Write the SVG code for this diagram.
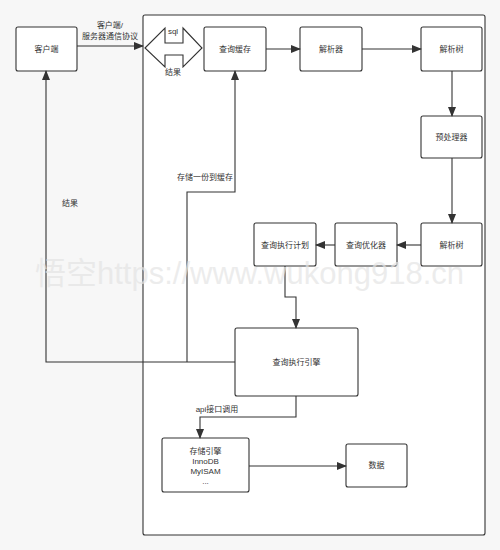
<svg xmlns="http://www.w3.org/2000/svg" width="500" height="550" viewBox="0 0 500 550">
<style>
.box{fill:#fff;stroke:#333;stroke-width:1.1}
.t{font-family:"Liberation Sans","Noto Sans CJK SC",sans-serif;font-size:8px;fill:#333;text-anchor:middle}
.ln{fill:none;stroke:#333;stroke-width:1.1}
.wm{font-family:"Liberation Sans","Noto Sans CJK SC",sans-serif;font-size:31px;fill:#e4e4e4;fill-opacity:0.7}
</style>
<defs>
<marker id="ah" markerWidth="10" markerHeight="8" refX="9" refY="4" orient="auto" markerUnits="userSpaceOnUse">
<path d="M0,0 L10,4 L0,8 Z" fill="#333"/>
</marker>
</defs>
<rect x="0" y="0" width="500" height="550" fill="#f7f7f7"/>
<rect x="143" y="15" width="342" height="520" rx="2" fill="#fff" stroke="#333" stroke-width="1.1"/>

<g id="client"><rect class="box" x="16" y="27" width="61" height="44" rx="2"/><text class="t" x="46.5" y="52">客户端</text></g>
<g id="query-cache"><rect class="box" x="204" y="27" width="62" height="44" rx="2"/><text class="t" x="235" y="52">查询缓存</text></g>
<g id="parser"><rect class="box" x="300" y="27" width="62" height="44" rx="2"/><text class="t" x="331" y="52">解析器</text></g>
<g id="parse-tree1"><rect class="box" x="421" y="27" width="61" height="44" rx="2"/><text class="t" x="451.5" y="52">解析树</text></g>
<g id="preprocessor"><rect class="box" x="421" y="116" width="61" height="42" rx="2"/><text class="t" x="451.5" y="140">预处理器</text></g>
<g id="parse-tree2"><rect class="box" x="421" y="223" width="61" height="43" rx="2"/><text class="t" x="451.5" y="248">解析树</text></g>
<g id="optimizer"><rect class="box" x="335" y="223" width="62" height="43" rx="2"/><text class="t" x="366" y="248">查询优化器</text></g>
<g id="exec-plan"><rect class="box" x="254" y="223" width="62" height="43" rx="2"/><text class="t" x="285" y="248">查询执行计划</text></g>
<g id="exec-engine"><rect class="box" x="235" y="328" width="123" height="68" rx="2"/><text class="t" x="296.5" y="365">查询执行引擎</text></g>
<g id="storage-engine"><rect class="box" x="162" y="438" width="87" height="54" rx="2"/>
<text class="t" x="205.5" y="454">存储引擎</text><text class="t" x="205.5" y="464">InnoDB</text><text class="t" x="205.5" y="474">MyISAM</text><text class="t" x="205.5" y="484">...</text></g>
<g id="data"><rect class="box" x="346" y="444" width="61" height="43" rx="2"/><text class="t" x="376.5" y="468">数据</text></g>
<g id="sql-arrow"><path class="box" d="M145,48 L165,28 L165,43 L183,43 L183,28 L202,48 L183,67 L183,55 L165,55 L165,67 Z"/></g>

<g id="connectors">
<line class="ln" x1="77" y1="46" x2="143" y2="46" marker-end="url(#ah)"/>
<line class="ln" x1="266" y1="49" x2="300" y2="49" marker-end="url(#ah)"/>
<line class="ln" x1="362" y1="49" x2="421" y2="49" marker-end="url(#ah)"/>
<line class="ln" x1="452" y1="71" x2="452" y2="116" marker-end="url(#ah)"/>
<line class="ln" x1="452" y1="158" x2="452" y2="223" marker-end="url(#ah)"/>
<line class="ln" x1="421" y1="245" x2="397" y2="245" marker-end="url(#ah)"/>
<line class="ln" x1="335" y1="245" x2="316" y2="245" marker-end="url(#ah)"/>
<polyline class="ln" points="285,266 285,297 296,297 296,328" marker-end="url(#ah)"/>
<polyline class="ln" points="235,362 46,362 46,71" marker-end="url(#ah)"/>
<polyline class="ln" points="187,362 187,192 235,192 235,71" marker-end="url(#ah)"/>
<polyline class="ln" points="296,396 296,417 200,417 200,438" marker-end="url(#ah)"/>
<line class="ln" x1="249" y1="466" x2="346" y2="466" marker-end="url(#ah)"/>
<text class="t" x="110" y="28">客户端/</text>
<text class="t" x="110" y="39">服务器通信协议</text>
<text class="t" x="173" y="34">sql</text>
<text class="t" x="173" y="75">结果</text>
<text class="t" x="205" y="180">存储一份到缓存</text>
<text class="t" x="70" y="206">结果</text>
<text class="t" x="217" y="412">api接口调用</text>
</g>
<text class="wm" x="35" y="284">悟空https://www.wukong918.cn</text>
</svg>
